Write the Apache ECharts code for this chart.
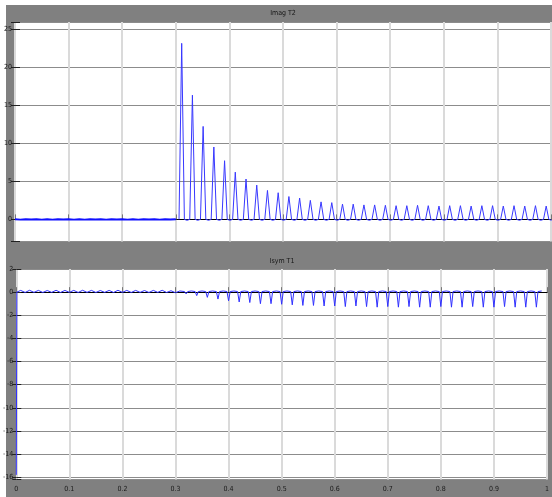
<!DOCTYPE html>
<html>
<head>
<meta charset="utf-8">
<script src="https://cdn.jsdelivr.net/npm/echarts@6/dist/echarts.min.js"></script>
<style>
html,body{margin:0;padding:0;background:#fff;}
#c{width:552px;height:497px;}
</style>
</head>
<body>
<div id="c"></div>
<script>
// ---- data ----
const titleTop = 'Imag T2';
const titleBottom = 'Isym T1';
const xTicks = [0, 0.1, 0.2, 0.3, 0.4, 0.5, 0.6, 0.7, 0.8, 0.9, 1];

// Imag T2: flat noisy segment before fault (sampled every 0.01 s)
const imagPreStep = 0.01;
const imagPre = [0.02,-0.03,0.03,-0.02,0.03,-0.03,0.02,-0.03,0.03,-0.02,0.03,-0.03,0.02,-0.03,0.03,-0.02,0.02,-0.03,0.03,-0.02,0.03,-0.03,0.02,-0.03,0.03,-0.02,0.03,-0.03,0.02,-0.02,0.02];
// Imag T2: inrush peaks
const imagPeakTimes = [0.311,0.331,0.351,0.371,0.391,0.411,0.431,0.451,0.471,0.491,0.511,0.531,0.551,0.571,0.591,0.611,0.631,0.651,0.671,0.691,0.711,0.731,0.751,0.771,0.791,0.811,0.831,0.851,0.871,0.891,0.911,0.931,0.951,0.971,0.991];
const imagPeaks = [23.1,16.3,12.2,9.5,7.7,6.2,5.3,4.5,3.8,3.5,3.0,2.8,2.5,2.3,2.2,2.0,2.0,1.9,1.9,1.85,1.8,1.8,1.85,1.8,1.75,1.8,1.8,1.75,1.8,1.8,1.75,1.8,1.75,1.8,1.75];
const imagTrough = -0.12;

// Isym T1: initial transient and ripple
const isymStart = -15.8;
const isymPreStep = 0.00833;
const isymPre = [0.15,-0.03,0.16,-0.02,0.15,-0.03,0.14,-0.02,0.16,-0.03,0.15,-0.02,0.15,-0.03,0.16,-0.02,0.15,-0.03,0.14,-0.02,0.15,-0.03,0.16,-0.02,0.15,-0.03,0.15,-0.02,0.14,-0.03,0.15,-0.02,0.16,-0.03,0.12,-0.05,0.1];
// Isym T1: periodic dips after fault
const isymDipTimes = [0.32,0.34,0.36,0.38,0.40,0.42,0.44,0.46,0.48,0.50,0.52,0.54,0.56,0.58,0.60,0.62,0.64,0.66,0.68,0.70,0.72,0.74,0.76,0.78,0.80,0.82,0.84,0.86,0.88,0.90,0.92,0.94,0.96,0.98];
const isymDips = [-0.15,-0.3,-0.45,-0.6,-0.75,-0.85,-0.9,-1.0,-1.0,-1.05,-1.1,-1.15,-1.15,-1.2,-1.2,-1.25,-1.2,-1.25,-1.3,-1.25,-1.3,-1.25,-1.3,-1.3,-1.25,-1.3,-1.3,-1.25,-1.3,-1.3,-1.25,-1.3,-1.3,-1.3];
const isymBase = 0.05;
const isymMid = 0.1;

// ---- build series ----
const topPre = imagPre.map((v, i) => [i * imagPreStep, v]);
const topPulse = [];
imagPeakTimes.forEach((t, i) => {
  topPulse.push([t - 0.005, 0], [t, imagPeaks[i]], [t + 0.005, 0], [t + 0.01, imagTrough]);
});
const botData = [[0, isymStart], [0.001, 0]];
isymPre.forEach((v, i) => botData.push([(i + 1) * isymPreStep, v]));
isymDipTimes.forEach((t, i) => {
  botData.push([t - 0.003, isymBase], [t, isymDips[i]], [t + 0.003, isymBase], [t + 0.01, isymMid]);
});

const FONT = "'Liberation Sans Narrow','DejaVu Sans Condensed','Liberation Sans',sans-serif";
const lblColor = '#1a1a1a';
const intLabel = v => (Math.abs(v - Math.round(v)) < 1e-6 ? String(Math.round(v)) : '');

function xAxisDef(gi, showLabels) {
  return {
    type: 'value', gridIndex: gi, min: 0, max: 1, interval: 0.1,
    axisLine: { show: true, lineStyle: { color: '#000', width: 1 } },
    axisTick: { show: true, inside: true, length: 5, lineStyle: { color: '#777' } },
    axisLabel: { show: showLabels, fontSize: 7, color: lblColor, fontFamily: FONT, margin: 6,
      formatter: v => String(Math.round(v * 10) / 10) },
    splitLine: { show: true, lineStyle: { color: '#dadada', width: 2 } }
  };
}
function xTopLine(gi) {
  return { type: 'value', gridIndex: gi, position: 'top', min: 0, max: 1,
    axisLine: { show: true, lineStyle: { color: '#000', width: 1 } },
    axisTick: { show: false }, axisLabel: { show: false }, splitLine: { show: false } };
}
function yAxisDef(gi, min, max, split) {
  return {
    type: 'value', gridIndex: gi, min: min, max: max, splitNumber: split,
    axisLine: { show: false },
    axisTick: { show: true, inside: true, length: 5, lineStyle: { color: '#222' } },
    axisLabel: { fontSize: 7, color: lblColor, fontFamily: FONT, margin: 3, formatter: intLabel },
    splitLine: { show: true, lineStyle: { color: '#8c8c8c', width: 1 } }
  };
}
function yRight(gi, min, max, split) {
  return {
    type: 'value', gridIndex: gi, position: 'right', min: min, max: max, splitNumber: split,
    axisLine: { show: false },
    axisTick: { show: true, inside: true, length: 4, lineStyle: { color: '#222' } },
    axisLabel: { show: false }, splitLine: { show: false }
  };
}

const chart = echarts.init(document.getElementById('c'), null, { renderer: 'canvas' });
chart.setOption({
  animation: false,
  backgroundColor: '#ffffff',
  graphic: [
    { type: 'rect', z: -10, shape: { x: 6, y: 5, width: 546, height: 492 }, style: { fill: '#808080' } },
    { type: 'text', x: 283, y: 13, style: { text: titleTop, fontSize: 7, fontFamily: FONT, fill: '#151515', align: 'center', verticalAlign: 'middle' } },
    { type: 'text', x: 282, y: 261, style: { text: titleBottom, fontSize: 7, fontFamily: FONT, fill: '#151515', align: 'center', verticalAlign: 'middle' } }
  ],
  grid: [
    { left: 15, right: 1, top: 22, height: 219.5, show: true, backgroundColor: '#fff', borderWidth: 0 },
    { left: 15, right: 1, top: 269, height: 210.5, show: true, backgroundColor: '#fff', borderWidth: 0 }
  ],
  xAxis: [xAxisDef(0, false), xAxisDef(1, true), xTopLine(0), xTopLine(1)],
  yAxis: [yAxisDef(0, -2.9, 25.9, 5), yAxisDef(1, -16.2, 2, 9), yRight(0, -2.9, 25.9, 5), yRight(1, -16.2, 2, 9)],
  series: [
    { type: 'line', xAxisIndex: 0, yAxisIndex: 0, data: topPre, showSymbol: false, symbol: 'none',
      lineStyle: { color: '#1010ff', width: 2 } },
    { type: 'line', xAxisIndex: 0, yAxisIndex: 0, data: topPulse, showSymbol: false, symbol: 'none',
      lineStyle: { color: '#3838ff', width: 1 } },
    { type: 'line', xAxisIndex: 1, yAxisIndex: 1, data: botData, showSymbol: false, symbol: 'none',
      lineStyle: { color: '#3030ff', width: 1 } }
  ]
});
</script>
</body>
</html>
